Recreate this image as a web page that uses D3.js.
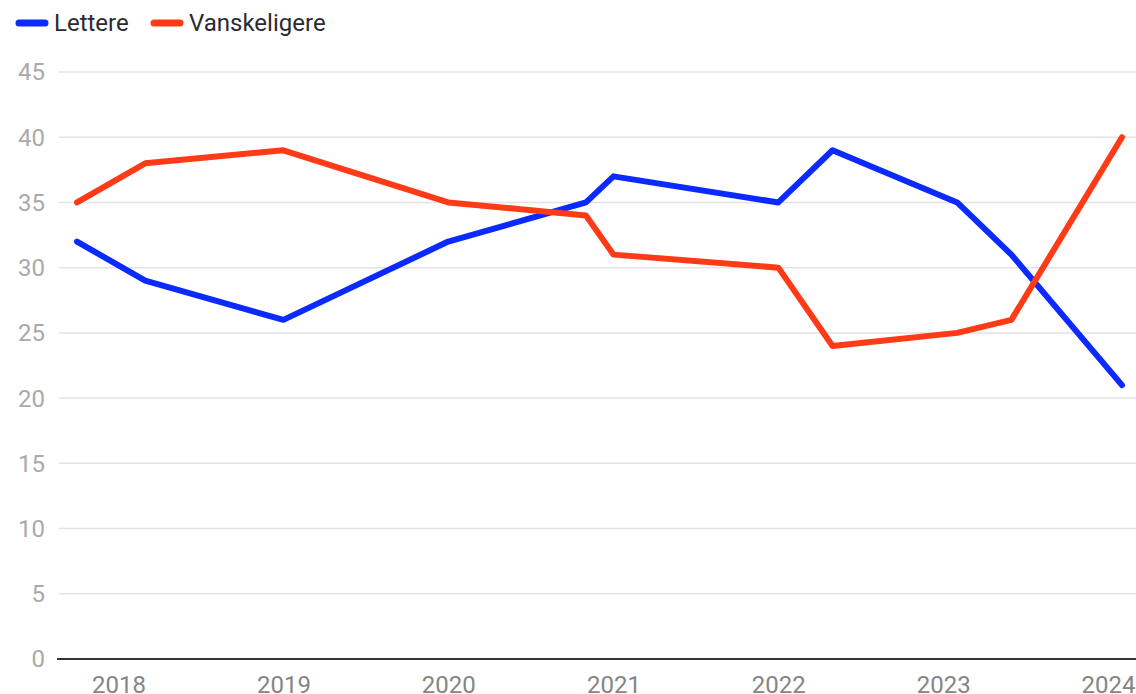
<!DOCTYPE html>
<html>
<head>
<meta charset="utf-8">
<script src="https://cdn.jsdelivr.net/npm/d3@7"></script>
<style>
  html, body { margin: 0; padding: 0; background: #fff; }
  svg { display: block; font-family: Roboto, "Noto Sans", sans-serif; }
</style>
</head>
<body>
<svg id="chart" width="1136" height="694"></svg>
<script>
var dates = ["2017-10-01", "2018-03-01", "2019-01-01", "2020-01-01", "2020-11-01", "2021-01-01",
	"2022-01-01", "2022-05-01", "2023-02-01", "2023-06-01", "2024-02-01"];
var lettere = [32, 29, 26, 32, 35, 37, 35, 39, 35, 31, 21];
var vanskeligere = [35, 38, 39, 35, 34, 31, 30, 24, 25, 26, 40];
var seriesNames = ["Lettere", "Vanskeligere"];
var seriesColors = ["#0a2aff", "#ff3b17"];
var yTicks = [0, 5, 10, 15, 20, 25, 30, 35, 40, 45];

var parse = d3.timeParse("%Y-%m-%d");
var when = dates.map(parse);

var svg = d3.select("#chart");

var x = d3.scaleTime()
	.domain(d3.extent(when))
	.range([77, 1122]);

var y = d3.scaleLinear()
	.domain([0, 45])
	.range([659, 72]);

// gridlines + y labels
var grid = svg.append("g").attr("class", "grid");
grid.selectAll("line")
	.data(yTicks.filter(function(d) { return d > 0; }))
	.enter()
	.append("line")
		.attr("x1", 59)
		.attr("x2", 1136)
		.attr("y1", function(d) { return y(d); })
		.attr("y2", function(d) { return y(d); })
		.style("stroke", "#e3e3e3")
		.style("stroke-width", 1.5);

svg.append("g").selectAll("text")
	.data(yTicks)
	.enter()
	.append("text")
		.attr("x", 45)
		.attr("y", function(d) { return y(d); })
		.attr("dy", "0.35em")
		.attr("text-anchor", "end")
		.style("font-size", "24px")
		.style("fill", "#aaaaaa")
		.text(function(d) { return d; });

// x axis
var xAxis = d3.axisBottom(x)
	.ticks(d3.timeYear.every(1))
	.tickFormat(d3.timeFormat("%Y"))
	.tickSize(0)
	.tickPadding(0);

var gx = svg.append("g")
	.attr("transform", "translate(0,659)")
	.call(xAxis);
gx.select(".domain").remove();
gx.selectAll("text")
	.attr("y", 34)
	.attr("dy", 0)
	.style("font-family", "Roboto, 'Noto Sans', sans-serif")
	.style("font-size", "24px")
	.style("fill", "#858585");

svg.append("line")
	.attr("x1", 57)
	.attr("x2", 1136)
	.attr("y1", y(0))
	.attr("y2", y(0))
	.style("stroke", "#333")
	.style("stroke-width", 2);

// lines
var line = d3.line()
	.x(function(d, i) { return x(when[i]); })
	.y(function(d) { return y(d); });

svg.append("g").selectAll("path")
	.data([lettere, vanskeligere])
	.enter()
	.append("path")
		.attr("d", line)
		.style("fill", "none")
		.style("stroke", function(d, i) { return seriesColors[i]; })
		.style("stroke-width", 6)
		.style("stroke-linejoin", "round")
		.style("stroke-linecap", "round");

// legend
var legendX = [17, 152];
var legend = svg.append("g").selectAll("g")
	.data(seriesNames)
	.enter()
	.append("g")
		.attr("transform", function(d, i) { return "translate(" + legendX[i] + ",23)"; });
legend.append("line")
	.attr("x1", 2)
	.attr("x2", 28)
	.style("stroke", function(d, i) { return seriesColors[i]; })
	.style("stroke-width", 7)
	.style("stroke-linecap", "round");
legend.append("text")
	.attr("x", 37)
	.attr("dy", "0.35em")
	.style("font-size", "24px")
	.style("fill", "#2a2a33")
	.text(function(d) { return d; });
</script>
</body>
</html>
